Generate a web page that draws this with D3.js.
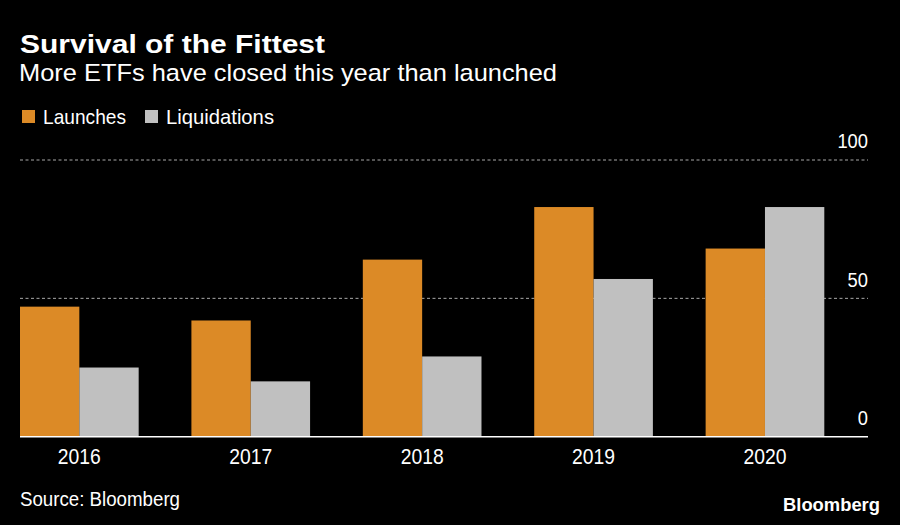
<!DOCTYPE html>
<html><head><meta charset="utf-8">
<script src="https://cdn.jsdelivr.net/npm/d3@7"></script>
<style>
html,body{margin:0;padding:0;background:#000;}
svg{display:block;font-family:"Liberation Sans",Arial,sans-serif;}
</style></head>
<body>
<svg id="chart" width="900" height="525"></svg>
<script>
const years = ["2016","2017","2018","2019","2020"];
const seriesNames = ["Launches","Liquidations"];
const launches = [47, 42, 64, 83, 68];
const liquidations = [25, 20, 29, 57, 83];
const yTicks = [0, 50, 100];
const colors = ["#dc8a26", "#c0c0c0"];

const svg = d3.select("#chart");
svg.append("rect").attr("width",900).attr("height",525).attr("fill","#000");

const y = d3.scaleLinear().domain([0,100]).range([436.7,160]);
const x0 = d3.scaleBand().domain(years).range([20,824.3]).paddingInner(0.3077).paddingOuter(0);
const x1 = d3.scaleBand().domain(seriesNames).range([0,x0.bandwidth()]);
const color = d3.scaleOrdinal().domain(seriesNames).range(colors);

function fitText(sel, w){ sel.attr("textLength", w).attr("lengthAdjust","spacingAndGlyphs"); return sel; }

// Title
fitText(svg.append("text").attr("x",20).attr("y",52.5).attr("fill","#fff")
  .attr("font-size",25.5).attr("font-weight","bold").text("Survival of the Fittest"),305);
fitText(svg.append("text").attr("x",19).attr("y",81).attr("fill","#fff")
  .attr("font-size",24.5).text("More ETFs have closed this year than launched"),538);

// Legend
const legX = [22, 145], legW = [83, 108];
seriesNames.forEach((s,i)=>{
  svg.append("rect").attr("x",legX[i]).attr("y",110).attr("width",13).attr("height",13).attr("fill",colors[i]);
  fitText(svg.append("text").attr("x",legX[i]+21).attr("y",124).attr("fill","#fff")
    .attr("font-size",21).text(s), legW[i]);
});

// Gridlines
const grid = svg.append("g");
yTicks.filter(t=>t>0).forEach(t=>{
  grid.append("line").attr("x1",20).attr("x2",868).attr("y1",y(t)).attr("y2",y(t))
    .attr("stroke","#a8a8a8").attr("stroke-width",1).attr("stroke-dasharray","3,2.5");
});

// Bars
const data = years.map((yr,i)=>({year:yr, vals:[{k:"Launches",v:launches[i]},{k:"Liquidations",v:liquidations[i]}]}));
svg.append("g").selectAll("g").data(data).join("g")
  .attr("transform",d=>`translate(${x0(d.year)},0)`)
  .selectAll("rect").data(d=>d.vals).join("rect")
  .attr("x",d=>x1(d.k)).attr("width",x1.bandwidth())
  .attr("y",d=>y(d.v)).attr("height",d=>y(0)-y(d.v))
  .attr("fill",d=>color(d.k));

// Baseline
svg.append("line").attr("x1",20).attr("x2",868).attr("y1",y(0)).attr("y2",y(0))
  .attr("stroke","#fff").attr("stroke-width",1.5);

// Y axis labels
const yAxis = d3.axisRight(y).tickValues(yTicks).tickSize(0).tickPadding(0);
const ya = svg.append("g").attr("transform","translate(868,0)").call(yAxis);
ya.select(".domain").remove();
ya.selectAll("text").attr("fill","#fff").attr("font-size",19.5)
  .attr("text-anchor","end").attr("dy",0).attr("y",-12.3)
  .attr("textLength",d=>String(d).length*10.2).attr("lengthAdjust","spacingAndGlyphs")
  .style("font-family","'Liberation Sans',Arial,sans-serif");

// X axis labels
const xAxis = d3.axisBottom(x0).tickSize(0).tickPadding(0);
const xa = svg.append("g").attr("transform",`translate(0,${y(0)})`).call(xAxis);
xa.select(".domain").remove();
xa.selectAll("text").attr("fill","#fff").attr("font-size",21.5).attr("dy",0).attr("y",27.5)
  .attr("textLength",43).attr("lengthAdjust","spacingAndGlyphs")
  .style("font-family","'Liberation Sans',Arial,sans-serif");

// Footer
fitText(svg.append("text").attr("x",20).attr("y",505.5).attr("fill","#fff")
  .attr("font-size",19.5).text("Source: Bloomberg"),160);
fitText(svg.append("text").attr("x",880).attr("y",511).attr("fill","#fff").attr("text-anchor","end")
  .attr("font-size",19).attr("font-weight","bold").text("Bloomberg"),97);
</script>
</body></html>
